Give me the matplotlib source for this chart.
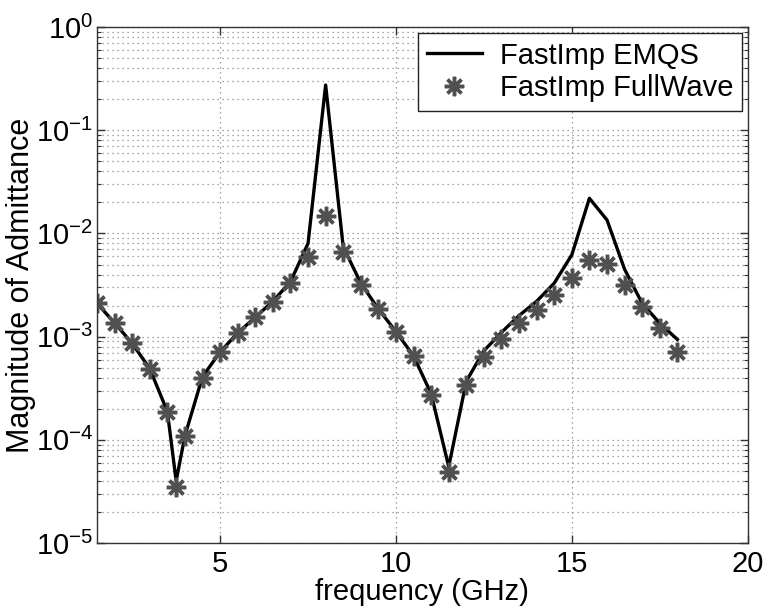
import matplotlib
matplotlib.use("Agg")
import matplotlib.pyplot as plt
from matplotlib.ticker import FixedLocator, LogLocator, NullFormatter

plt.rcParams['font.family'] = ['Liberation Sans', 'DejaVu Sans']
plt.rcParams['mathtext.fontset'] = 'custom'
plt.rcParams['mathtext.rm'] = 'Liberation Sans'
plt.rcParams['mathtext.it'] = 'Liberation Sans'

# frequency points (GHz)
freq = [1.5, 2, 2.5, 3, 3.5, 3.75, 4, 4.5, 5, 5.5, 6, 6.5, 7, 7.5, 8, 8.5, 9,
        9.5, 10, 10.5, 11, 11.5, 12, 12.5, 13, 13.5, 14, 14.5, 15, 15.5, 16,
        16.5, 17, 17.5, 18]

emqs = [2.1e-3, 1.36e-3, 8.6e-4, 4.9e-4, 1.88e-4, 4.0e-5, 1.1e-4, 4.1e-4,
        7.1e-4, 1.09e-3, 1.54e-3, 2.2e-3, 3.4e-3, 8.0e-3, 0.274, 7.4e-3,
        3.3e-3, 1.85e-3, 1.12e-3, 6.5e-4, 2.8e-4, 5.5e-5, 3.7e-4, 7.3e-4,
        1.1e-3, 1.6e-3, 2.2e-3, 3.3e-3, 6.2e-3, 2.19e-2, 1.35e-2, 4.5e-3,
        2.1e-3, 1.35e-3, 9.4e-4]

fullwave = [2.1e-3, 1.36e-3, 8.6e-4, 4.9e-4, 1.87e-4, 3.5e-5, 1.1e-4, 4.0e-4,
            7.1e-4, 1.09e-3, 1.54e-3, 2.18e-3, 3.3e-3, 5.9e-3, 1.46e-2, 6.6e-3,
            3.2e-3, 1.84e-3, 1.12e-3, 6.5e-4, 2.7e-4, 4.9e-5, 3.4e-4, 6.3e-4,
            9.4e-4, 1.35e-3, 1.81e-3, 2.55e-3, 3.7e-3, 5.5e-3, 5.1e-3, 3.2e-3,
            1.95e-3, 1.2e-3, 7.1e-4]

xticks = [5, 10, 15, 20]
ydecades = [1e-5, 1e-4, 1e-3, 1e-2, 1e-1, 1e0]

fig = plt.figure(figsize=(7.7, 6.13), dpi=100)
ax = fig.add_axes([0.126, 0.114, 0.845, 0.842])

ax.plot(freq, emqs, color='black', lw=2.4, label='FastImp EMQS')
ax.plot(freq, fullwave, linestyle='none', marker=(8, 2, 0), markersize=14,
        markeredgewidth=2.5, color='#505050', label='FastImp FullWave')

ax.set_yscale('log')
ax.set_xlim(1.5, 20)
ax.set_ylim(1e-5, 1e0)
ax.xaxis.set_major_locator(FixedLocator(xticks))
ax.yaxis.set_major_locator(FixedLocator(ydecades))
ax.yaxis.set_minor_locator(LogLocator(base=10, subs=range(2, 10), numticks=20))
ax.yaxis.set_minor_formatter(NullFormatter())
ax.set_yticklabels([r'$10^{%d}$' % e for e in range(-5, 1)])

ax.tick_params(which='both', direction='in', top=True, right=True,
               labelsize=21, color='#333333')
ax.tick_params(axis='x', pad=5)
ax.tick_params(axis='y', pad=3)
ax.tick_params(which='major', length=6, width=1)
ax.tick_params(which='minor', length=3, width=0.8)
for s in ax.spines.values():
    s.set_linewidth(1.0)
    s.set_color('#333333')

ax.grid(True, which='major', linestyle=(0, (1, 3)), color='#888888', lw=0.9)
ax.grid(True, which='minor', axis='y', linestyle=(0, (1, 3)), color='#888888', lw=0.9)

ax.set_xlabel('frequency (GHz)', fontsize=21, labelpad=0)
ax.set_ylabel('Magnitude of Admittance', fontsize=22, labelpad=0)

leg = ax.legend(loc='upper right', fontsize=21, fancybox=False, framealpha=1,
                edgecolor='#222222', borderaxespad=0.2, handlelength=1.9,
                handletextpad=0.6, labelspacing=0.15, borderpad=0.3)
leg.get_frame().set_linewidth(1.0)

fig.savefig('out.png', dpi=100)
